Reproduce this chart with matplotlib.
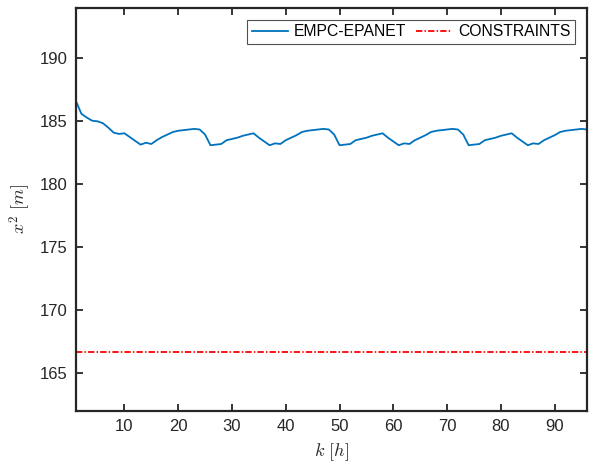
import numpy as np
import matplotlib.pyplot as plt

plt.rcParams['font.family'] = ['Liberation Sans', 'DejaVu Sans']
plt.rcParams['mathtext.fontset'] = 'cm'

# hours 1..96
k = np.arange(1, 97)

# pressure head x^2 [m]
x2 = [186.6, 185.6, 185.3, 185.05, 185.0, 184.85, 184.5, 184.1, 184.0, 184.05,
      183.75, 183.45, 183.15, 183.3, 183.2, 183.5, 183.75, 183.95, 184.15, 184.25,
      184.3, 184.35, 184.4, 184.35, 183.95,
      183.1, 183.15, 183.2, 183.5, 183.6, 183.7, 183.85, 183.95, 184.05, 183.7,
      183.4, 183.1, 183.25, 183.2, 183.5, 183.7, 183.9, 184.15, 184.25, 184.3,
      184.35, 184.4, 184.35, 183.95,
      183.1, 183.15, 183.2, 183.5, 183.6, 183.7, 183.85, 183.95, 184.05, 183.7,
      183.4, 183.1, 183.25, 183.2, 183.5, 183.7, 183.9, 184.15, 184.25, 184.3,
      184.35, 184.4, 184.35, 183.95,
      183.1, 183.15, 183.2, 183.5, 183.6, 183.7, 183.85, 183.95, 184.05, 183.7,
      183.4, 183.1, 183.25, 183.2, 183.5, 183.7, 183.9, 184.15, 184.25, 184.3,
      184.35, 184.4, 184.35]

# lower bound on the head
x2_min = 166.67

xticks = [10, 20, 30, 40, 50, 60, 70, 80, 90]
yticks = [165, 170, 175, 180, 185, 190]

axcol = (0.15, 0.15, 0.15)

fig = plt.figure(figsize=(5.9, 4.69), dpi=100)
ax = fig.add_axes([0.1288, 0.1237, 0.8661, 0.8593])

ax.plot(k, x2, color=(0, 0.447, 0.741), lw=1.3, label='EMPC-EPANET')
ax.plot(k, [x2_min] * len(k), color='red', lw=1.3, ls=(0, (3.5, 1.2, 0.8, 1.2)),
        label='CONSTRAINTS')

ax.set_xlim(1, 96)
ax.set_ylim(162, 194)
ax.set_xticks(xticks)
ax.set_yticks(yticks)
ax.tick_params(direction='in', length=5, width=1.3, colors=axcol,
               labelsize=12, top=True, right=True, pad=6)
for s in ax.spines.values():
    s.set_color(axcol)
    s.set_linewidth(1.6)

ax.set_xlabel(r'$k\ [h]$', fontsize=13, color=axcol, labelpad=5)
ax.set_ylabel(r'$x^2\ [m]$', fontsize=13, color=axcol, labelpad=5)

leg = ax.legend(loc='upper right', ncol=2, fontsize=11.3, frameon=True, fancybox=False,
                borderaxespad=0.75, handlelength=2.3, columnspacing=0.6,
                handletextpad=0.4, borderpad=0.3)
leg.get_frame().set_edgecolor(axcol)
leg.get_frame().set_linewidth(0.8)

plt.savefig('out.png', dpi=100)
